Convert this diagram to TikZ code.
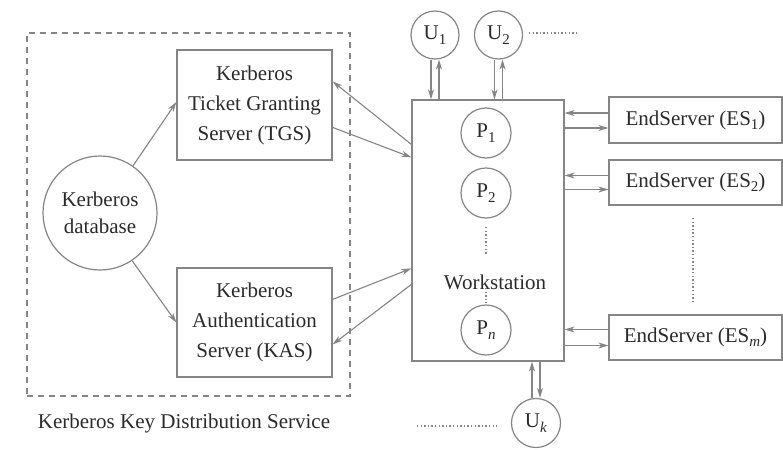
\documentclass[tikz,border=0pt]{standalone}
\usepackage{fontspec}
\setmainfont{Liberation Serif}
\usetikzlibrary{arrows.meta,calc}
\definecolor{ln}{HTML}{858585}
\definecolor{tx}{HTML}{2a2a2a}
\newcommand\sbx[1]{\raisebox{-0.45ex}{\fontsize{15}{15}\selectfont #1}}
\tikzset{
  box/.style={draw=ln, line width=1.2pt, rectangle, inner sep=0pt, align=center},
  circ/.style={draw=ln, line width=1.2pt, circle, inner sep=0pt, align=center},
  arr/.style={draw=ln, line width=1.1pt, -{Stealth[length=10pt,width=6pt,inset=3pt]}},
  dots/.style={draw=ln, line width=1.1pt, dash pattern=on 1.4pt off 2.2pt},
  kdcbox/.style={draw=ln, line width=1.1pt, dash pattern=on 6pt off 5pt, rectangle, inner sep=0pt}
}
\begin{document}
\begin{tikzpicture}[x=1pt,y=-1pt,text=tx,font=\fontsize{21}{30}\selectfont]
\useasboundingbox (0,0) rectangle (783,449);
% Key distribution service
\node[kdcbox, minimum width=323pt, minimum height=363pt] (kdc) at (188.5,214.5) {};
\node (kdclabel) at (184,423) {Kerberos Key Distribution Service};
\node[circ, minimum size=114pt, font=\fontsize{21}{27}\selectfont] (db) at (100,213) {Kerberos\\database};
\node[box, minimum width=155pt, minimum height=110pt] (tgs) at (254.5,105) {Kerberos\\Ticket Granting\\Server (TGS)};
\node[box, minimum width=155pt, minimum height=109pt] (kas) at (254.5,322.5) {Kerberos\\Authentication\\Server (KAS)};
% Workstation
\node[box, minimum width=152pt, minimum height=261pt] (ws) at (488,230.5) {};
\node[circ, minimum size=50pt] (p1) at (486,133) {P\sbx{1}};
\node[circ, minimum size=50pt] (p2) at (486,193) {P\sbx{2}};
\node[circ, minimum size=50pt] (pn) at (486,330) {P\sbx{\textit{n}}};
\node (wslabel) at (495,282) {Workstation};
\coordinate (d1a) at (486,227);
\coordinate (d1b) at (486,254);
\coordinate (d2a) at (486,288);
\coordinate (d2b) at (486,303);
\draw[dots] (d1a) -- (d1b);
\draw[dots] (d2a) -- (d2b);
% Users
\node[circ, minimum size=48pt] (u1) at (435,35) {U\sbx{1}};
\node[circ, minimum size=48pt] (u2) at (498.5,35) {U\sbx{2}};
\node[circ, minimum size=49pt] (uk) at (536,423) {U\sbx{\textit{k}}};
\coordinate (ud1) at (529,33);
\coordinate (ud2) at (577,33);
\draw[dots] (ud1) -- (ud2);
\coordinate (ukd1) at (417,426);
\coordinate (ukd2) at (497,426);
\draw[dots] (ukd1) -- (ukd2);
% End servers
\node[box, minimum width=173pt, minimum height=46pt] (es1) at (695.5,120) {EndServer (ES\sbx{1})};
\node[box, minimum width=173pt, minimum height=45pt] (es2) at (695.5,182.5) {EndServer (ES\sbx{2})};
\node[box, minimum width=173pt, minimum height=45pt] (esm) at (695.5,337.5) {EndServer (ES\sbx{\textit{m}})};
\coordinate (ed1) at (693,218);
\coordinate (ed2) at (693,303);
\draw[dots] (ed1) -- (ed2);
% Arrows in KDC
\draw[arr] (db.55) -- ([yshift=3pt]tgs.west);
\draw[arr] (db.-56) -- (kas.west);
% KDC <-> Workstation
\draw[arr] ([yshift=-45pt]ws.north west) -- ([yshift=-32pt]tgs.north east);
\draw[arr] ([yshift=-78pt]tgs.north east) -- ([yshift=-58pt]ws.north west);
\draw[arr] ([yshift=-32pt]kas.north east) -- ([yshift=-169pt]ws.north west);
\draw[arr] ([yshift=-185pt]ws.north west) -- ([yshift=-77pt]kas.north east);
% Users <-> Workstation
\draw[arr] ([xshift=-4pt]u1.south) -- ([xshift=-4pt]u1.south |- ws.north);
\draw[arr] ([xshift=4pt]u1.south |- ws.north) -- ([xshift=4pt]u1.south);
\draw[arr] ([xshift=-4pt]u2.south) -- ([xshift=-4pt]u2.south |- ws.north);
\draw[arr] ([xshift=4pt]u2.south |- ws.north) -- ([xshift=4pt]u2.south);
\draw[arr] ([xshift=-4pt]uk.north) -- ([xshift=-4pt]uk.north |- ws.south);
\draw[arr] ([xshift=4pt]uk.north |- ws.south) -- ([xshift=4pt]uk.north);
% End servers <-> Workstation
\draw[arr] ([yshift=7pt]es1.west) -- ([yshift=7pt]es1.west -| ws.east);
\draw[arr] ([yshift=-8pt]es1.west -| ws.east) -- ([yshift=-8pt]es1.west);
\draw[arr] ([yshift=7pt]es2.west) -- ([yshift=7pt]es2.west -| ws.east);
\draw[arr] ([yshift=-7pt]es2.west -| ws.east) -- ([yshift=-7pt]es2.west);
\draw[arr] ([yshift=8pt]esm.west) -- ([yshift=8pt]esm.west -| ws.east);
\draw[arr] ([yshift=-8pt]esm.west -| ws.east) -- ([yshift=-8pt]esm.west);
\end{tikzpicture}
\end{document}
